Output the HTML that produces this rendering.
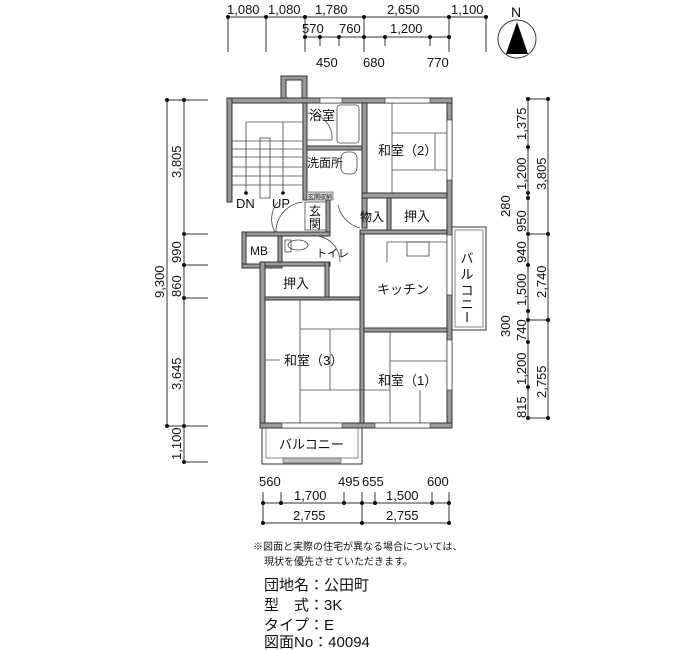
<!DOCTYPE html>
<html><head><meta charset="utf-8"><style>
html,body{margin:0;padding:0;background:#fff}
svg{display:block}
text{font-family:"Liberation Sans","Noto Sans CJK JP",sans-serif;fill:#111}
.w{fill:#9a9a9a;stroke:#333;stroke-width:1}
.l{stroke:#222;stroke-width:1;fill:none}
.t{stroke:#444;stroke-width:0.8;fill:none}
.d{stroke:#333;stroke-width:1}
</style></head><body>
<svg width="700" height="650" viewBox="0 0 700 650" xmlns="http://www.w3.org/2000/svg">
<!-- top dimensions -->
<g class="d">
<line x1="228" y1="17" x2="486" y2="17"/>
<line x1="305" y1="37" x2="449" y2="37"/>
<line x1="228" y1="17" x2="228" y2="52"/><line x1="266" y1="17" x2="266" y2="52"/>
<line x1="305" y1="17" x2="305" y2="52"/><line x1="364" y1="17" x2="364" y2="52"/>
<line x1="449" y1="17" x2="449" y2="52"/><line x1="486" y1="17" x2="486" y2="52"/>
<line x1="320" y1="37" x2="320" y2="46"/><line x1="339" y1="37" x2="339" y2="46"/>
<line x1="385" y1="37" x2="385" y2="46"/><line x1="430" y1="37" x2="430" y2="46"/>
</g>
<g fill="#111">
<circle cx="228" cy="17" r="2"/><circle cx="266" cy="17" r="2"/><circle cx="305" cy="17" r="2"/><circle cx="364" cy="17" r="2"/><circle cx="449" cy="17" r="2"/><circle cx="486" cy="17" r="2"/>
<circle cx="305" cy="37" r="2"/><circle cx="320" cy="37" r="2"/><circle cx="339" cy="37" r="2"/><circle cx="364" cy="37" r="2"/><circle cx="385" cy="37" r="2"/><circle cx="430" cy="37" r="2"/><circle cx="449" cy="37" r="2"/>
</g>
<g font-size="13">
<text x="227" y="14">1,080</text><text x="268" y="14">1,080</text><text x="315" y="14">1,780</text>
<text x="387" y="14">2,650</text><text x="451" y="14">1,100</text>
<text x="302" y="33">570</text><text x="339" y="33">760</text><text x="390" y="33">1,200</text>
<text x="316" y="67">450</text><text x="363" y="67">680</text><text x="427" y="67">770</text>
</g>
<!-- north -->
<circle cx="517" cy="39" r="19" fill="none" stroke="#333"/>
<polygon points="517,22 506,54 528,54" fill="#000"/>
<text x="511" y="17" font-size="14">N</text>
<!-- left dimensions -->
<g class="d">
<line x1="167" y1="100" x2="167" y2="426"/><line x1="184" y1="100" x2="184" y2="462"/>
<line x1="167" y1="100" x2="208" y2="100"/><line x1="184" y1="234" x2="208" y2="234"/>
<line x1="184" y1="265" x2="208" y2="265"/><line x1="184" y1="298" x2="208" y2="298"/>
<line x1="167" y1="426" x2="208" y2="426"/><line x1="184" y1="462" x2="208" y2="462"/>
</g>
<g fill="#111">
<circle cx="167" cy="100" r="2"/><circle cx="184" cy="100" r="2"/><circle cx="184" cy="234" r="2"/><circle cx="184" cy="265" r="2"/><circle cx="184" cy="298" r="2"/><circle cx="167" cy="426" r="2"/><circle cx="184" cy="426" r="2"/><circle cx="184" cy="462" r="2"/>
</g>
<g font-size="13">
<text transform="translate(181,178) rotate(-90)">3,805</text>
<text transform="translate(181,263) rotate(-90)">990</text>
<text transform="translate(181,297) rotate(-90)">860</text>
<text transform="translate(164,298) rotate(-90)">9,300</text>
<text transform="translate(181,390) rotate(-90)">3,645</text>
<text transform="translate(181,460) rotate(-90)">1,100</text>
</g>
<!-- right dimensions -->
<g class="d">
<line x1="528" y1="99" x2="528" y2="418"/><line x1="548" y1="99" x2="548" y2="418"/>
<line x1="528" y1="99" x2="548" y2="99"/><line x1="528" y1="234" x2="548" y2="234"/>
<line x1="528" y1="320" x2="548" y2="320"/><line x1="528" y1="418" x2="548" y2="418"/>
</g>
<g fill="#111">
<circle cx="528" cy="99" r="2"/><circle cx="528" cy="147" r="2"/><circle cx="528" cy="193" r="2"/><circle cx="528" cy="198" r="2"/><circle cx="528" cy="234" r="2"/><circle cx="528" cy="265" r="2"/><circle cx="528" cy="311" r="2"/><circle cx="528" cy="320" r="2"/><circle cx="528" cy="342" r="2"/><circle cx="528" cy="387" r="2"/><circle cx="528" cy="418" r="2"/>
<circle cx="548" cy="99" r="2"/><circle cx="548" cy="234" r="2"/><circle cx="548" cy="320" r="2"/><circle cx="548" cy="418" r="2"/>
</g>
<g font-size="13">
<text transform="translate(526,140) rotate(-90)">1,375</text>
<text transform="translate(526,190) rotate(-90)">1,200</text>
<text transform="translate(546,190) rotate(-90)">3,805</text>
<text transform="translate(510,217) rotate(-90)">280</text>
<text transform="translate(526,232) rotate(-90)">950</text>
<text transform="translate(526,263) rotate(-90)">940</text>
<text transform="translate(526,306) rotate(-90)">1,500</text>
<text transform="translate(546,298) rotate(-90)">2,740</text>
<text transform="translate(510,337) rotate(-90)">300</text>
<text transform="translate(526,341) rotate(-90)">740</text>
<text transform="translate(526,385) rotate(-90)">1,200</text>
<text transform="translate(546,398) rotate(-90)">2,755</text>
<text transform="translate(526,418) rotate(-90)">815</text>
</g>
<!-- bottom dimensions -->
<g class="d">
<line x1="263" y1="503" x2="449" y2="503"/><line x1="263" y1="523" x2="449" y2="523"/>
<line x1="263" y1="492" x2="263" y2="523"/><line x1="281" y1="492" x2="281" y2="503"/>
<line x1="344" y1="492" x2="344" y2="503"/><line x1="362" y1="492" x2="362" y2="523"/>
<line x1="375" y1="492" x2="375" y2="503"/><line x1="432" y1="492" x2="432" y2="503"/>
<line x1="449" y1="492" x2="449" y2="523"/>
</g>
<g fill="#111">
<circle cx="263" cy="503" r="2"/><circle cx="281" cy="503" r="2"/><circle cx="344" cy="503" r="2"/><circle cx="362" cy="503" r="2"/><circle cx="375" cy="503" r="2"/><circle cx="432" cy="503" r="2"/><circle cx="449" cy="503" r="2"/>
<circle cx="263" cy="523" r="2"/><circle cx="362" cy="523" r="2"/><circle cx="449" cy="523" r="2"/>
</g>
<g font-size="13">
<text x="259" y="486">560</text><text x="338" y="486">495</text><text x="362" y="486">655</text><text x="427" y="486">600</text>
<text x="294" y="500">1,700</text><text x="386" y="500">1,500</text>
<text x="293" y="520">2,755</text><text x="386" y="520">2,755</text>
</g>
<!-- right balcony -->
<rect x="452" y="227" width="34" height="103" fill="#fff" stroke="#333"/>
<rect x="455" y="230" width="28" height="97" fill="none" stroke="#666" stroke-width="0.8"/>
<g font-size="13" text-anchor="middle">
<text x="467" y="263">バ</text><text x="467" y="279">ル</text><text x="467" y="295">コ</text><text x="467" y="309">ニ</text><text x="467" y="322" transform="rotate(90 467 317)">ー</text>
</g>
<!-- bottom balcony -->
<rect x="262" y="428" width="100" height="36" fill="#fff" stroke="#333"/>
<rect x="266" y="428" width="92" height="30" fill="none" stroke="#666" stroke-width="0.8"/>
<rect x="283" y="458" width="58" height="5" fill="#bbb" stroke="#555" stroke-width="0.6"/>
<text x="279" y="449" font-size="13">バルコニー</text>
<!-- walls -->
<rect class="w" x="281" y="76" width="26" height="22"/>
<rect class="w" x="286" y="80" width="16" height="18" style="fill:#fff"/>
<rect class="w" x="227" y="98" width="225" height="5"/>
<rect class="w" x="227" y="98" width="5" height="104"/>
<rect class="w" x="303" y="103" width="4" height="97"/>
<rect class="w" x="362" y="103" width="5" height="125"/>
<rect class="w" x="447" y="103" width="5" height="323"/>
<rect class="w" x="307" y="146" width="55" height="4"/>
<rect class="w" x="362" y="193" width="85" height="5"/>
<rect class="w" x="387" y="198" width="4" height="32"/>
<rect class="w" x="360" y="230" width="87" height="4"/>
<rect class="w" x="242" y="232" width="88" height="4"/>
<rect class="w" x="242" y="232" width="4" height="36"/>
<rect class="w" x="242" y="264" width="40" height="4"/>
<rect class="w" x="278" y="236" width="4" height="30"/>
<rect class="w" x="326" y="200" width="4" height="32"/>
<rect class="w" x="260" y="262" width="70" height="4"/>
<rect class="w" x="260" y="262" width="5" height="166"/>
<rect class="w" x="325" y="262" width="4" height="36"/>
<rect class="w" x="265" y="297" width="95" height="3"/>
<rect class="w" x="360" y="234" width="4" height="192"/>
<rect class="w" x="364" y="328" width="83" height="4"/>
<rect class="w" x="260" y="423" width="192" height="5"/>
<!-- windows -->
<g fill="#fff" stroke="#444" stroke-width="0.7">
<rect x="320" y="98" width="22" height="5"/><rect x="385" y="98" width="45" height="5"/>
<rect x="282" y="423" width="60" height="5"/><rect x="375" y="423" width="55" height="5"/>
<rect x="447" y="235" width="5" height="60"/><rect x="447" y="340" width="5" height="50"/>
<rect x="447" y="120" width="5" height="60"/>
</g>
<!-- stairs -->
<g class="t">
<line x1="246" y1="122" x2="303" y2="122"/><line x1="246" y1="122" x2="246" y2="193"/>
<line x1="283" y1="122" x2="283" y2="193"/>
<rect x="260" y="138" width="10" height="60" fill="#fff"/>
<line x1="232" y1="141" x2="303" y2="141"/><line x1="232" y1="149" x2="303" y2="149"/>
<line x1="232" y1="157" x2="303" y2="157"/><line x1="232" y1="167" x2="303" y2="167"/>
<line x1="232" y1="176" x2="303" y2="176"/><line x1="232" y1="185" x2="303" y2="185"/>
</g>
<circle cx="246" cy="193" r="1.8"/><circle cx="283" cy="193" r="1.8"/>
<text x="236" y="208" font-size="13">DN</text><text x="272" y="208" font-size="13">UP</text>
<!-- bath -->
<rect x="337" y="105" width="22" height="38" rx="3" class="t"/>
<path d="M307 113 A 25 25 0 0 1 332 140 L307 140" class="t"/>
<text x="309" y="120" font-size="13">浴室</text>
<text x="307" y="167" font-size="12">洗面所</text>
<rect x="341" y="152" width="16" height="22" rx="6" class="t"/>
<rect x="307" y="192" width="26" height="8" fill="#ddd" stroke="#444" stroke-width="0.6"/>
<text x="308" y="199" font-size="6">玄関収納</text>
<rect x="305" y="202" width="21" height="28" class="t"/>
<text x="309" y="215" font-size="12">玄</text><text x="309" y="228" font-size="12">関</text>
<path d="M278 202 A 26 26 0 0 0 275 232" class="t"/>
<path d="M303 202 A 30 30 0 0 0 276 232" class="t"/>
<path d="M338 205 A 30 30 0 0 0 360 228" class="t"/>
<text x="360" y="221" font-size="12">物入</text>
<text x="404" y="221" font-size="13">押入</text>
<text x="250" y="255" font-size="12">MB</text>
<ellipse cx="298" cy="245" rx="10" ry="5" class="t"/><rect x="285" y="240" width="6" height="12" class="t"/>
<text x="316" y="257" font-size="11">トイレ</text>
<path d="M310 236 A 26 26 0 0 1 340 262" class="t"/>
<!-- rooms -->
<g class="t">
<line x1="392" y1="103" x2="392" y2="193"/><line x1="392" y1="133" x2="447" y2="133"/>
<line x1="392" y1="170" x2="447" y2="170"/><line x1="435" y1="133" x2="435" y2="170"/>
<line x1="387" y1="242" x2="447" y2="242"/><line x1="387" y1="242" x2="387" y2="262"/>
<rect x="407" y="242" width="22" height="14"/>
<line x1="300" y1="300" x2="300" y2="423"/><line x1="300" y1="329" x2="360" y2="329"/>
<line x1="330" y1="329" x2="330" y2="390"/><line x1="300" y1="390" x2="390" y2="390"/>
<line x1="265" y1="360" x2="280" y2="360"/>
<line x1="390" y1="332" x2="390" y2="423"/><line x1="390" y1="361" x2="447" y2="361"/>
<line x1="420" y1="390" x2="420" y2="423"/>
</g>
<g font-size="13">
<text x="378" y="155">和室（2）</text>
<text x="377" y="294">キッチン</text>
<text x="283" y="288">押入</text>
<text x="284" y="365">和室（3）</text>
<text x="378" y="385">和室（1）</text>
</g>
<!-- notes -->
<text x="253" y="550" font-size="10">※図面と実際の住宅が異なる場合については、</text>
<text x="264" y="565" font-size="10">現状を優先させていただきます。</text>
<g font-size="15">
<text x="264" y="590">団地名：公田町</text>
<text x="264" y="610">型　式：3K</text>
<text x="264" y="630">タイプ：E</text>
<text x="264" y="647">図面No：40094</text>
</g>
</svg>
</body></html>
